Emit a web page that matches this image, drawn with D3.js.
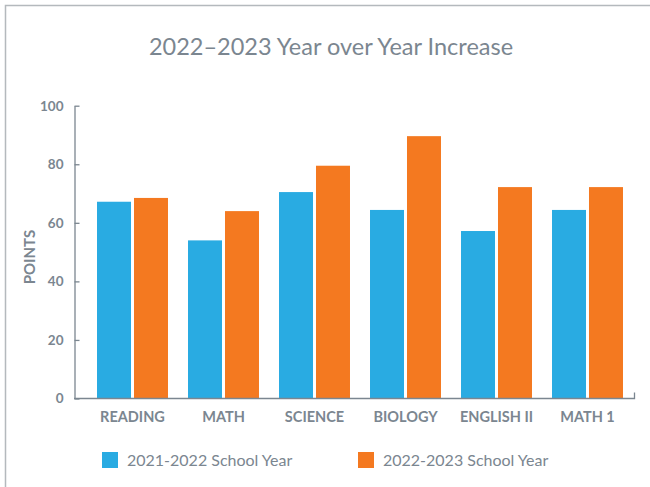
<!DOCTYPE html>
<html>
<head>
<meta charset="utf-8">
<script src="https://cdn.jsdelivr.net/npm/d3@7"></script>
<style>
  body { margin: 0; background: #fff; }
  svg { display: block; font-family: Lato, "Open Sans", sans-serif; }
</style>
</head>
<body>
<div id="chart"></div>
<script>
// data
const subjects = ["READING", "MATH", "SCIENCE", "BIOLOGY", "ENGLISH II", "MATH 1"];
const seriesNames = ["2021-2022 School Year", "2022-2023 School Year"];
const year2122 = [67.2, 54, 70.5, 64.4, 57.2, 64.4];
const year2223 = [68.5, 64, 79.5, 89.6, 72.2, 72.2];
const yTicks = [0, 20, 40, 60, 80, 100];
const colors = ["#29abe2", "#f47920"];

const w = 650, h = 487;
const grey = "#7b8690";

const rows = subjects.map((s, i) => ({ subject: s, vals: [year2122[i], year2223[i]] }));

const svg = d3.select("#chart").append("svg")
    .attr("width", w)
    .attr("height", h);

// frame
svg.append("path")
    .attr("d", "M5.5," + h + "V5.5H" + w)
    .attr("fill", "none")
    .attr("stroke", "#b4b9bd")
    .attr("stroke-width", 1.5);

// title
svg.append("text")
    .attr("x", 331)
    .attr("y", 55)
    .attr("text-anchor", "middle")
    .attr("fill", grey)
    .style("font-size", "23.5px")
    .text("2022\u20132023 Year over Year Increase");

// scales
const y = d3.scaleLinear().domain([0, 100]).range([398.5, 105.7]);
const x0 = d3.scaleBand().domain(subjects).range([87, 633])
    .paddingInner(0.22).paddingOuter(0.11);
const x1 = d3.scaleBand().domain([0, 1]).range([0, x0.bandwidth()]).paddingInner(0.081);

// bars
const groups = svg.selectAll("g.grp")
    .data(rows)
    .enter()
    .append("g")
    .attr("class", "grp")
    .attr("transform", d => "translate(" + x0(d.subject) + ",0)");

groups.selectAll("rect")
    .data(d => d.vals)
    .enter()
    .append("rect")
    .attr("x", (d, i) => x1(i))
    .attr("y", d => y(d))
    .attr("width", x1.bandwidth())
    .attr("height", d => y(0) - y(d))
    .attr("fill", (d, i) => colors[i]);

// y axis
const yAxis = svg.append("g")
    .attr("transform", "translate(74.5,0)")
    .call(d3.axisLeft(y).tickValues(yTicks).tickSize(-5).tickSizeOuter(0).tickPadding(11));
yAxis.select(".domain").attr("stroke", grey).attr("stroke-width", 1.3);
yAxis.selectAll(".tick line").attr("stroke", grey).attr("stroke-width", 1.3);
yAxis.selectAll(".tick text")
    .attr("fill", grey)
    .style("font-size", "13.5px")
    .style("font-weight", "bold")
    .style("font-family", "Lato, sans-serif");

// x axis line with end tick
svg.append("path")
    .attr("d", "M74," + y(0) + "H634.5V" + (y(0) - 6))
    .attr("fill", "none")
    .attr("stroke", grey)
    .attr("stroke-width", 1.3);

// category labels
svg.selectAll("text.cat")
    .data(subjects)
    .enter()
    .append("text")
    .attr("class", "cat")
    .attr("x", d => x0(d) + x0.bandwidth() / 2)
    .attr("y", 422)
    .attr("text-anchor", "middle")
    .attr("fill", grey)
    .style("font-size", "14.5px")
    .style("font-weight", "bold")
    .text(d => d);

// y label
svg.append("text")
    .attr("transform", "translate(35,257) rotate(-90)")
    .attr("text-anchor", "middle")
    .attr("fill", grey)
    .style("font-size", "15px")
    .style("font-weight", "bold")
    .text("POINTS");

// legend
const legendX = [102, 358];
const legend = svg.selectAll("g.leg")
    .data(seriesNames)
    .enter()
    .append("g")
    .attr("class", "leg")
    .attr("transform", (d, i) => "translate(" + legendX[i] + ",452)");

legend.append("rect")
    .attr("width", 16)
    .attr("height", 16)
    .attr("fill", (d, i) => colors[i]);

legend.append("text")
    .attr("x", 25)
    .attr("y", 13.5)
    .attr("fill", grey)
    .style("font-size", "16px")
    .text(d => d);
</script>
</body>
</html>
